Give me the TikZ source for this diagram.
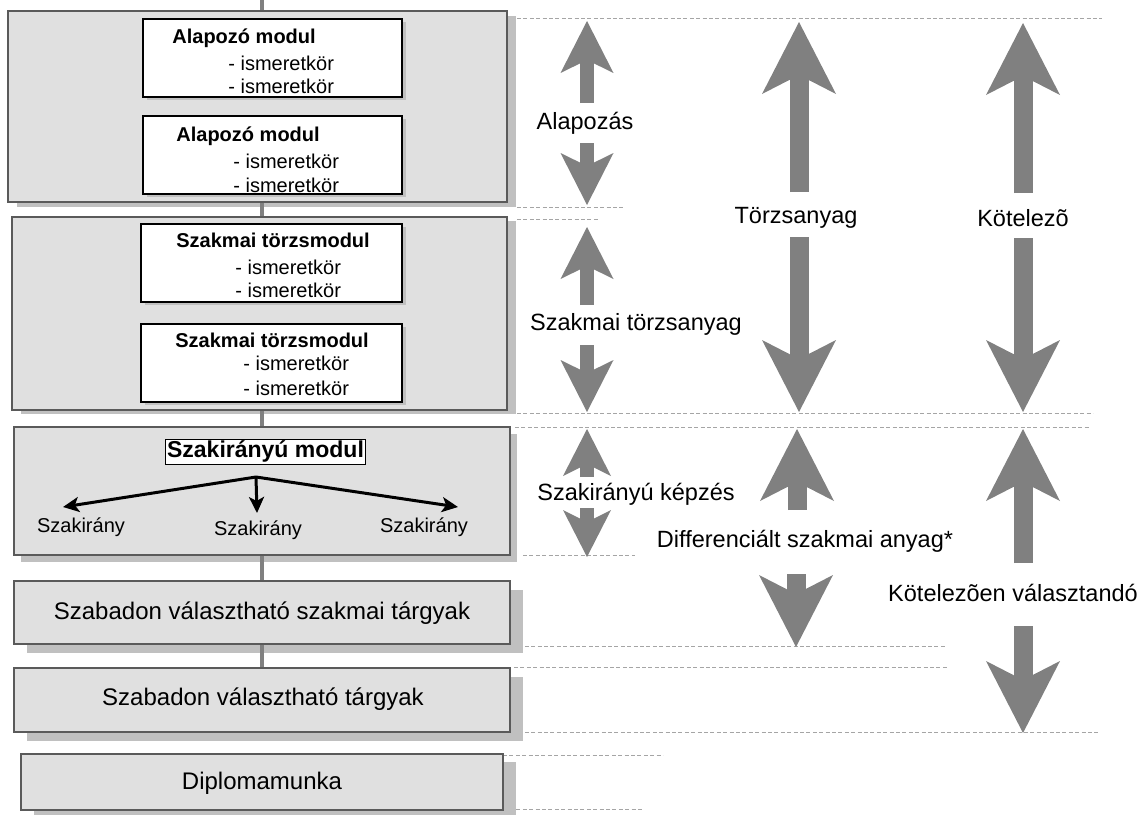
\documentclass[tikz,border=0pt]{standalone}
\usepackage{fontspec}
\setmainfont{Liberation Sans}
\usetikzlibrary{arrows.meta,shadows,fit}

\definecolor{boxfill}{RGB}{224,224,224}
\definecolor{shadowgrey}{RGB}{192,192,192}
\definecolor{arrowgrey}{RGB}{128,128,128}
\definecolor{guidegrey}{RGB}{165,165,165}
\definecolor{edgegrey}{RGB}{90,90,90}

\tikzset{
  boxshade/.style 2 args={drop shadow={shadow xshift=#1,shadow yshift=#2,fill=shadowgrey,opacity=1}},
  bigbox/.style={draw=edgegrey,line width=0.6pt,fill=boxfill,inner sep=0pt},
  boxtext/.style={inner sep=0pt,font=\fontsize{12}{14}\selectfont},
  modbox/.style={draw=black,line width=0.6pt,fill=white,inner sep=0pt,boxshade={2pt}{-1.5pt}},
  modtitle/.style={anchor=base west,inner sep=0pt,font=\bfseries\fontsize{10}{12}\selectfont},
  modline/.style={anchor=base west,inner sep=0pt,font=\fontsize{10}{12}\selectfont},
  irtitle/.style={draw=black,line width=0.4pt,fill=white,inner sep=0.8pt,font=\bfseries\fontsize{11.5}{13}\selectfont},
  irany/.style={inner sep=0pt,font=\fontsize{10}{12}\selectfont},
  lab/.style={anchor=base,inner sep=0pt,font=\fontsize{11.75}{14}\selectfont},
  conn/.style={draw=arrowgrey,line width=1.8pt},
  guide/.style={draw=guidegrey,line width=0.5pt,dash pattern=on 2pt off 1.2pt},
  branch/.style={draw=black,line width=1.5pt,-{Stealth[length=8pt,width=7.5pt,inset=2pt]}},
  thinarr/.style={draw=arrowgrey,line width=7pt,-{Stealth[length=26pt,width=26.5pt,inset=6.5pt,line width=0pt]}},
  lowarr/.style={draw=arrowgrey,line width=7pt,-{Stealth[length=23.5pt,width=24pt,inset=6pt,line width=0pt]}},
  fatarr/.style={draw=arrowgrey,line width=9.5pt,-{Stealth[length=36pt,width=37pt,inset=9.5pt,line width=0pt]}}
}

\begin{document}
\begin{tikzpicture}[x=0.5pt,y=-0.5pt]
\useasboundingbox (0,0) rectangle (1145,814);

% guide lines
\draw[guide] (517,18) -- (1102,18);
\draw[guide] (517,207) -- (625,207);
\draw[guide] (517,219) -- (598,219);
\draw[guide] (517,413) -- (1093,413);
\draw[guide] (515,427) -- (1089,427);
\draw[guide] (523,555) -- (635,555);
\draw[guide] (512,646) -- (945,646);
\draw[guide] (514,667) -- (947,667);
\draw[guide] (512,732) -- (1098,732);
\draw[guide] (503,755) -- (663,755);
\draw[guide] (510,809) -- (642,809);

% blocks
\node[bigbox,boxshade={4.5pt}{-2.5pt},fit={(8,11) (507,202)}] (alap) {};
\node[bigbox,boxshade={4.5pt}{-2pt},fit={(12,217) (507,410)}] (torzs) {};
\node[bigbox,boxshade={3.5pt}{-3.5pt},fit={(14,427) (510,555)}] (szakir) {};
\node[bigbox,boxshade={6.5pt}{-4.5pt},fit={(14,581) (510,644)}] (szabsz) {};
\node[bigbox,boxshade={6.5pt}{-4.5pt},fit={(14,668) (510,732)}] (szab) {};
\node[bigbox,boxshade={6.5pt}{-4pt},fit={(21,754) (503,810)}] (diploma) {};
\node[boxtext] (szabszT) at (262,613) {Szabadon választható szakmai tárgyak};
\node[boxtext] (szabT) at (263,699) {Szabadon választható tárgyak};
\node[boxtext] (diplomaT) at (262,783) {Diplomamunka};

\coordinate (top) at (262,0);
\draw[conn] (top) -- (top |- alap.north);
\draw[conn] (top |- alap.south) -- (top |- torzs.north);
\draw[conn] (top |- torzs.south) -- (top |- szakir.north);
\draw[conn] (top |- szakir.south) -- (top |- szabsz.north);
\draw[conn] (top |- szabsz.south) -- (top |- szab.north);

% modules
\node[modbox,fit={(143,19) (402,97)}] (alapA) {};
\node[modbox,fit={(143,116) (402,194)}] (alapB) {};
\node[modbox,fit={(141,224) (402,302)}] (torzsA) {};
\node[modbox,fit={(141,324) (402,402)}] (torzsB) {};
\node[modtitle] (alapAt) at (172,43) {Alapozó modul};
\node[modline] (alapA1) at (228,70) {- ismeretkör};
\node[modline] (alapA2) at (228,93) {- ismeretkör};
\node[modtitle] (alapBt) at (176,141) {Alapozó modul};
\node[modline] (alapB1) at (233,168) {- ismeretkör};
\node[modline] (alapB2) at (233,192) {- ismeretkör};
\node[modtitle] (torzsAt) at (176,247) {Szakmai törzsmodul};
\node[modline] (torzsA1) at (235,274) {- ismeretkör};
\node[modline] (torzsA2) at (235,297) {- ismeretkör};
\node[modtitle] (torzsBt) at (175,347) {Szakmai törzsmodul};
\node[modline] (torzsB1) at (243,370) {- ismeretkör};
\node[modline] (torzsB2) at (243,395) {- ismeretkör};

% szakirany
\node[irtitle] (irmod) at (265.5,451.5) {Szakirányú modul};
\coordinate (split) at (256,477);
\coordinate (irL) at (63,507);
\coordinate (irM) at (257,513);
\coordinate (irR) at (458,507);
\draw[branch] (split) -- (irL);
\draw[branch] (split) -- (irM);
\draw[branch] (split) -- (irR);
\node[irany] (szl) at (81,527) {Szakirány};
\node[irany] (szm) at (258,530) {Szakirány};
\node[irany] (szr) at (424,527) {Szakirány};

% labels
\node[lab] (alapoz) at (585,129) {Alapozás};
\node[lab] (sztorzs) at (636,330) {Szakmai törzsanyag};
\node[lab] (szkepz) at (636,500) {Szakirányú képzés};
\node[lab] (torzsany) at (796,223) {Törzsanyag};
\node[lab] (diff) at (805,547) {Differenciált szakmai anyag*};
\node[lab] (kotel) at (1023,226) {Kötelezõ};
\node[lab] (kotval) at (1013,601) {Kötelezõen választandó};

% arrows
\coordinate (al1) at (587,103); \coordinate (al2) at (587,21);
\coordinate (al3) at (587,143); \coordinate (al4) at (587,205);
\draw[thinarr] (al1) -- (al2);
\draw[thinarr] (al3) -- (al4);
\coordinate (st1) at (587,305); \coordinate (st2) at (587,227);
\coordinate (st3) at (587,345); \coordinate (st4) at (587,412);
\draw[thinarr] (st1) -- (st2);
\draw[thinarr] (st3) -- (st4);
\coordinate (sk1) at (587,477); \coordinate (sk2) at (587,429);
\coordinate (sk3) at (587,508); \coordinate (sk4) at (587,557);
\draw[lowarr] (sk1) -- (sk2);
\draw[lowarr] (sk3) -- (sk4);
\coordinate (ta1) at (799,192); \coordinate (ta2) at (799,22);
\coordinate (ta3) at (799,237); \coordinate (ta4) at (799,412);
\draw[fatarr] (ta1) -- (ta2);
\draw[fatarr] (ta3) -- (ta4);
\coordinate (df1) at (797,510); \coordinate (df2) at (797,429);
\coordinate (df3) at (796,574); \coordinate (df4) at (796,647);
\draw[fatarr] (df1) -- (df2);
\draw[fatarr] (df3) -- (df4);
\coordinate (ko1) at (1023,193); \coordinate (ko2) at (1023,23);
\coordinate (ko3) at (1023,238); \coordinate (ko4) at (1023,412);
\draw[fatarr] (ko1) -- (ko2);
\draw[fatarr] (ko3) -- (ko4);
\coordinate (kv1) at (1023,563); \coordinate (kv2) at (1023,429);
\coordinate (kv3) at (1023,626); \coordinate (kv4) at (1023,733);
\draw[fatarr] (kv1) -- (kv2);
\draw[fatarr] (kv3) -- (kv4);
\end{tikzpicture}
\end{document}
